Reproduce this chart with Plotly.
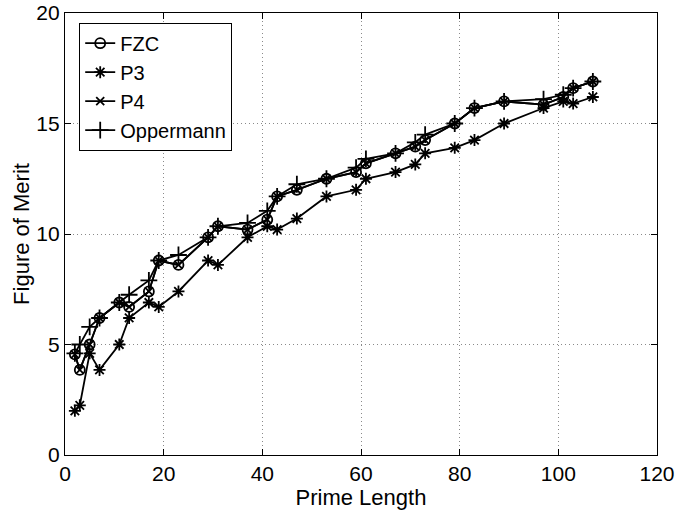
import plotly.graph_objects as go

primes = [2, 3, 5, 7, 11, 13, 17, 19, 23, 29, 31, 37, 41, 43, 47, 53, 59, 61, 67, 71, 73, 79, 83, 89, 97, 101, 103, 107]

fzc = [4.55, 3.85, 5.0, 6.2, 6.9, 6.7, 7.4, 8.8, 8.6, 9.85, 10.35, 10.2, 10.65, 11.7, 12.0, 12.5, 12.8, 13.2, 13.65, 13.95, 14.25, 15.0, 15.7, 16.0, 15.85, 16.2, 16.6, 16.9]
p3 = [2.0, 2.25, 4.6, 3.85, 5.0, 6.2, 6.9, 6.7, 7.4, 8.8, 8.6, 9.85, 10.35, 10.2, 10.7, 11.7, 12.0, 12.5, 12.8, 13.15, 13.65, 13.9, 14.25, 15.0, 15.7, 16.0, 15.9, 16.2]
p4 = [4.55, 3.85, 5.0, 6.2, 6.9, 6.7, 7.4, 8.8, 8.6, 9.85, 10.35, 10.2, 10.65, 11.7, 12.0, 12.5, 12.8, 13.2, 13.65, 13.95, 14.25, 15.0, 15.7, 16.0, 15.85, 16.2, 16.6, 16.9]
oppermann = [4.6, 5.0, 5.8, 6.2, 6.9, 7.25, 7.9, 8.8, 9.05, 9.85, 10.35, 10.5, 11.05, 11.7, 12.25, 12.5, 13.0, 13.4, 13.65, 14.15, 14.5, 15.0, 15.7, 16.0, 16.1, 16.3, 16.6, 16.9]

x_ticks = [0, 20, 40, 60, 80, 100, 120]
y_ticks = [0, 5, 10, 15, 20]

fig = go.Figure()
series = [
    ("FZC", fzc, "circle-open", 10),
    ("P3", p3, "asterisk-open", 10),
    ("P4", p4, "x-thin-open", 8),
    ("Oppermann", oppermann, "cross-thin-open", 12),
]
for name, ys, sym, sz in series:
    fig.add_trace(go.Scatter(
        x=primes, y=ys, name=name, mode="lines+markers",
        line=dict(color="black", width=1.8),
        marker=dict(symbol=sym, size=sz, color="black", line=dict(color="black", width=1.8)),
    ))

axis_common = dict(
    showline=True, linecolor="black", linewidth=1.3, mirror="ticks",
    ticks="inside", ticklen=6, tickcolor="black",
    showgrid=True, gridcolor="#8a8a8a", griddash="1px,3px", gridwidth=1,
    zeroline=False, tickfont=dict(size=21, color="black"), automargin=False,
)
fig.update_xaxes(range=[0, 120], tickvals=x_ticks, ticktext=[str(v) for v in x_ticks],
                 title=dict(text="Prime Length", font=dict(size=22, color="black"), standoff=2),
                 **axis_common)
fig.update_yaxes(range=[0, 20], tickvals=y_ticks, ticktext=[str(v) for v in y_ticks],
                 title=dict(text="Figure of Merit", font=dict(size=22, color="black"), standoff=0),
                 **axis_common)

fig.update_layout(
    width=682, height=511,
    margin=dict(l=65, r=25, t=13, b=56),
    paper_bgcolor="white", plot_bgcolor="white",
    font=dict(family="Liberation Sans, Arial, sans-serif", color="black"),
    legend=dict(x=0.024, y=0.978, xanchor="left", yanchor="top",
                bordercolor="black", borderwidth=1, bgcolor="white",
                font=dict(size=20, color="black"), tracegroupgap=0,
                itemwidth=30),
    showlegend=True,
)

fig.write_html("out.html")
